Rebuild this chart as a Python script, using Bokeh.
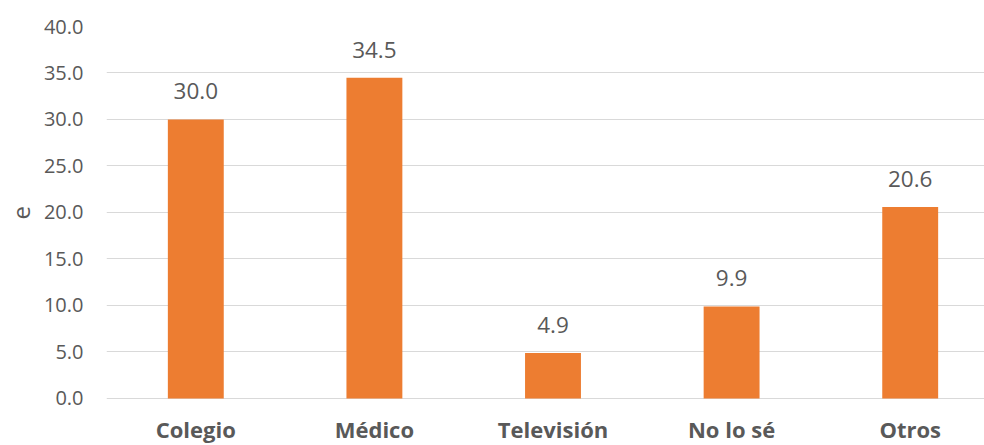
from bokeh.plotting import figure
from bokeh.models import ColumnDataSource, Range1d, FixedTicker, LabelSet, Title, CustomJSTickFormatter
from bokeh.core.properties import value
from bokeh.embed import file_html
from bokeh.resources import INLINE

categories = ["Colegio", "Médico", "Televisión", "No lo sé", "Otros"]
values = [30.0, 34.5, 4.9, 9.9, 20.6]
y_ticks = [0, 5, 10, 15, 20, 25, 30, 35, 40]
y_title = "e"

FONT = "Open Sans"
TXT = "#595959"
GRID = "#D9D9D9"
BAR = "#ED7D31"

xs = [i + 0.5 for i in range(len(categories))]
src = ColumnDataSource(dict(x=xs, top=values, zero=[0] * len(values),
                            lab=[f"{v:.1f}" for v in values], cat=categories))

# frame extends below 0 so that the category labels sit inside it
p = figure(width=984, height=445, output_backend="svg", toolbar_location=None,
           x_range=Range1d(0, 4.916), y_range=Range1d(-5.054, 40),
           min_border_left=104, min_border_right=0, min_border_top=26, min_border_bottom=0)
p.outline_line_color = None
p.background_fill_color = "white"
p.border_fill_color = "white"

p.vbar(x="x", top="top", width=0.313, bottom=0, source=src, fill_color=BAR, line_color=None)

labels = LabelSet(x="x", y="top", text="lab", source=src, text_align="center",
                  text_baseline="alphabetic", y_offset=20,
                  text_font=value(FONT), text_font_size="22.5px", text_color=TXT)
p.add_layout(labels)

cat_labels = LabelSet(x="x", y="zero", text="cat", source=src, text_align="center",
                      text_baseline="alphabetic", y_offset=-40,
                      text_font=value(FONT), text_font_size="22px", text_font_style="bold",
                      text_color=TXT)
p.add_layout(cat_labels)

# y axis
p.yaxis.ticker = FixedTicker(ticks=y_ticks)
p.yaxis.formatter = CustomJSTickFormatter(code="return tick.toFixed(1);")
p.yaxis.axis_line_color = None
p.yaxis.major_tick_line_color = None
p.yaxis.minor_tick_line_color = None
p.yaxis.major_tick_out = 0
p.yaxis.major_tick_in = 0
p.yaxis.major_label_standoff = 23
p.yaxis.major_label_text_font = FONT
p.yaxis.major_label_text_font_size = "20px"
p.yaxis.major_label_text_color = TXT

p.add_layout(Title(text=y_title, align="left", offset=226, standoff=21,
                   text_font=FONT, text_font_size="24px", text_font_style="normal",
                   text_color=TXT), "left")

p.xaxis.visible = False

p.xgrid.grid_line_color = None
p.ygrid.grid_line_color = GRID
p.ygrid.grid_line_width = 1

open("out.html", "w").write(file_html(p, INLINE))
